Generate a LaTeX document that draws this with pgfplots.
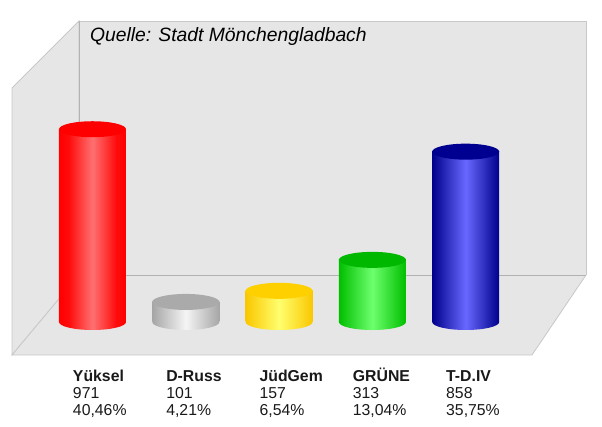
\documentclass[border=0pt]{standalone}
\usepackage{pgfplots}
\pgfplotsset{compat=1.18}
\usepackage{fontspec}
\setmainfont{Liberation Sans}
\pgfdeclarehorizontalshading{cylred}{100bp}{rgb(0bp)=(1,0,0);rgb(25bp)=(1,0,0);rgb(32bp)=(1,0.04,0.04);rgb(50bp)=(1,0.44,0.44);rgb(68bp)=(1,0.04,0.04);rgb(75bp)=(1,0,0);rgb(100bp)=(1,0,0)}
\pgfdeclarehorizontalshading{cylgrey}{100bp}{rgb(0bp)=(0.65,0.65,0.65);rgb(25bp)=(0.65,0.65,0.65);rgb(50bp)=(0.96,0.96,0.96);rgb(75bp)=(0.65,0.65,0.65);rgb(100bp)=(0.65,0.65,0.65)}
\pgfdeclarehorizontalshading{cylyellow}{100bp}{rgb(0bp)=(0.98,0.78,0);rgb(25bp)=(0.98,0.78,0);rgb(50bp)=(1,1,0.43);rgb(75bp)=(0.98,0.78,0);rgb(100bp)=(0.98,0.78,0)}
\pgfdeclarehorizontalshading{cylgreen}{100bp}{rgb(0bp)=(0,0.75,0);rgb(25bp)=(0,0.75,0);rgb(50bp)=(0.43,1,0.43);rgb(75bp)=(0,0.75,0);rgb(100bp)=(0,0.75,0)}
\pgfdeclarehorizontalshading{cylblue}{100bp}{rgb(0bp)=(0,0,0.55);rgb(25bp)=(0,0,0.55);rgb(50bp)=(0.41,0.41,1);rgb(75bp)=(0,0,0.55);rgb(100bp)=(0,0,0.55)}
\definecolor{wall}{RGB}{230,230,230}
\definecolor{wedge}{RGB}{200,200,200}
\definecolor{wback}{RGB}{178,178,178}
\definecolor{topred}{RGB}{255,0,0}
\definecolor{topgrey}{RGB}{170,170,170}
\definecolor{topyellow}{RGB}{255,208,0}
\definecolor{topgreen}{RGB}{0,184,0}
\definecolor{topblue}{RGB}{0,0,144}
\newcommand{\ellpath}{\pgfpathellipse{\pgfpointorigin}{\pgfqpoint{33.5pt}{0pt}}{\pgfqpoint{0pt}{8pt}}}
\pgfdeclareplotmark{cyltop}{\ellpath\pgfusepathqfill}
\pgfdeclareplotmark{basered}{\ellpath\pgfshadepath{cylred}{0}\pgfusepath{discard}}
\pgfdeclareplotmark{basegrey}{\ellpath\pgfshadepath{cylgrey}{0}\pgfusepath{discard}}
\pgfdeclareplotmark{baseyellow}{\ellpath\pgfshadepath{cylyellow}{0}\pgfusepath{discard}}
\pgfdeclareplotmark{basegreen}{\ellpath\pgfshadepath{cylgreen}{0}\pgfusepath{discard}}
\pgfdeclareplotmark{baseblue}{\ellpath\pgfshadepath{cylblue}{0}\pgfusepath{discard}}
\newcommand{\cyl}[3]{%
  \addplot[only marks,mark=base#3] coordinates {(#1,0)};
  \addplot[ybar,bar width=67pt,bar shift=0pt,draw=none,shading=cyl#3,shading angle=0] coordinates {(#1,#2)};
  \addplot[only marks,mark=cyltop,mark options={fill=top#3,draw=none}] coordinates {(#1,#2)};
}
\begin{document}
\begin{tikzpicture}
\path[use as bounding box] (0,0) rectangle (602pt,426pt);
% walls, in pixel coordinates of the picture
\begin{axis}[at={(0,0)},anchor=south west,width=602pt,height=426pt,scale only axis,
  xmin=0,xmax=602,ymin=0,ymax=426,y dir=reverse,hide axis,clip=false]
  \addplot[fill=wall,draw=wedge,line width=0.8pt] coordinates {(12,88)(79,21)(79,275)(12,355)} -- cycle;
  \addplot[fill=wall,draw=wedge,line width=0.8pt] coordinates {(12,355)(79,275)(586,275)(532,355)} -- cycle;
  \addplot[fill=wall,draw=none] coordinates {(79,21)(586,21)(586,275)(79,275)} -- cycle;
  \addplot[draw=wedge,line width=0.6pt] coordinates {(79,21)(586,21)(586,275)};
  \addplot[draw=wback,line width=0.9pt] coordinates {(79,21)(79,275)(586,275)};
  \node[anchor=base west,inner sep=0pt,font=\fontsize{19.3}{22}\selectfont\itshape] at (axis cs:90,41.7) {Quelle: Stadt Mönchengladbach};
\end{axis}
% cylinders: votes on y, party index on x
\begin{axis}[at={(0,64.3pt)},anchor=south west,width=602pt,height=361.7pt,scale only axis,
  xmin=-0.9914,xmax=5.461,ymin=-200,ymax=1622,clip=false,
  axis line style={draw=none},
  xtick={0,1,2,3,4},ytick=\empty,
  xtick style={draw=none},
  xticklabels={{\rule{0pt}{16pt}\textbf{Yüksel}\\971\\40,46\%},{\rule{0pt}{16pt}\textbf{D-Russ}\\101\\4,21\%},{\rule{0pt}{16pt}\textbf{JüdGem}\\157\\6,54\%},{\rule{0pt}{16pt}\textbf{GRÜNE}\\313\\13,04\%},{\rule{0pt}{16pt}\textbf{T-D.IV}\\858\\35,75\%}},
  xticklabel style={text width=62pt,align=left,inner sep=0pt,anchor=north,xshift=11.5pt,yshift=-4pt,font=\fontsize{15.8}{16.6}\selectfont,text=black!90},
]
  \cyl{0}{971}{red}
  \cyl{1}{101}{grey}
  \cyl{2}{157}{yellow}
  \cyl{3}{313}{green}
  \cyl{4}{858}{blue}
\end{axis}
\end{tikzpicture}
\end{document}
